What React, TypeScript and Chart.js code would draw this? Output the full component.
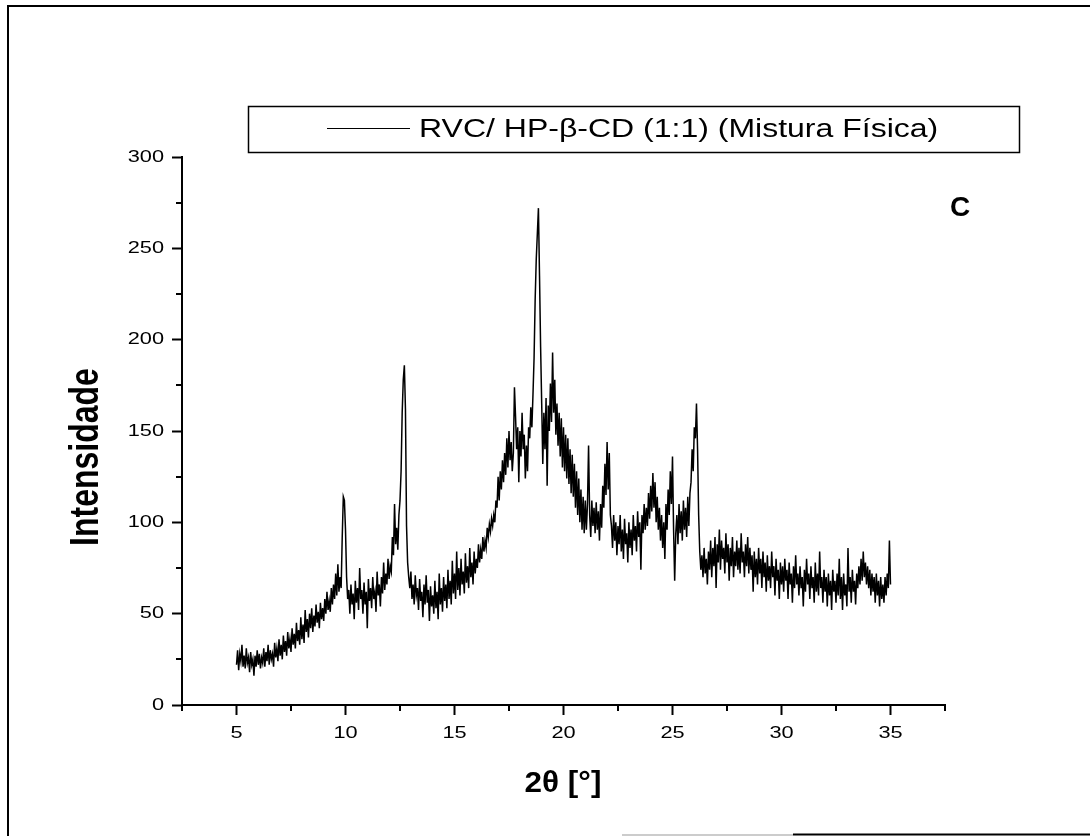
import React, { useEffect, useRef } from "react";
import { Chart, registerables } from "chart.js";

Chart.register(...registerables);

// Diffractogram sampled every 0.05° (2θ), split into 5° blocks.
const STEP = 0.05;

const int05to10 = [
  22, 30, 19, 28, 24, 33, 21, 27, 20, 31,
  23, 26, 18, 29, 22, 25, 16, 27, 21, 30,
  22, 28, 20, 26, 23, 31, 21, 29, 24, 33,
  22, 30, 25, 28, 21, 34, 26, 31, 24, 36,
  27, 33, 25, 38, 29, 35, 27, 40, 31, 36,
  29, 42, 33, 39, 31, 45, 35, 41, 33, 48,
  36, 44, 34, 52, 40, 47, 37, 50, 42, 53,
  40, 49, 43, 55, 45, 51, 42, 56, 47, 53,
  46, 58, 50, 62, 52, 57, 51, 64, 55, 66,
  58, 72, 60, 77, 62, 70, 64, 92, 114, 112,
];

const int10to15 = [
  96, 70, 58, 63, 50, 66, 55, 61, 47, 68,
  56, 64, 52, 75, 58, 63, 50, 67, 55, 62,
  42, 69, 57, 64, 53, 70, 58, 62, 51, 73,
  60, 66, 54, 70, 61, 78, 63, 72, 66, 80,
  69, 76, 73, 92, 82, 110, 88, 97, 85, 104,
  112, 128, 160, 178, 186, 162, 98, 78, 70, 64,
  73, 58, 66, 55, 71, 60, 64, 52, 69, 57,
  62, 48, 66, 55, 71, 56, 63, 46, 65, 54,
  60, 50, 68, 53, 62, 47, 72, 55, 64, 51,
  70, 57, 66, 53, 74, 58, 68, 55, 79, 61,
];

const int15to20 = [
  72, 58, 84, 63, 75, 60, 80, 66, 73, 61,
  83, 67, 76, 64, 86, 70, 78, 66, 84, 72,
  80, 75, 88, 78, 85, 80, 92, 84, 90, 86,
  97, 92, 99, 95, 102, 98, 104, 100, 112, 108,
  125, 112, 128, 118, 134, 122, 138, 126, 146, 130,
  150, 134, 144, 128, 138, 174, 158, 140, 152, 122,
  150, 136, 160, 140, 148, 124, 142, 128, 152, 146,
  163, 152, 170, 190, 222, 244, 258, 272, 235, 196,
  165, 132, 160, 140, 168, 120, 164, 150, 176, 155,
  193, 160, 178, 148, 165, 142, 160, 136, 157, 130,
];

const int20to25 = [
  152, 128, 148, 124, 146, 121, 140, 116, 137, 114,
  132, 108, 128, 104, 124, 100, 118, 96, 114, 94,
  112, 96, 110, 142, 104, 92, 112, 98, 108, 94,
  111, 96, 106, 90, 110, 97, 120, 108, 132, 115,
  144, 118, 138, 104, 98, 86, 104, 90, 100, 82,
  98, 88, 104, 84, 96, 80, 102, 88, 94, 78,
  100, 86, 96, 82, 104, 90, 98, 84, 106, 92,
  100, 74, 104, 94, 110, 96, 108, 98, 116, 102,
  120, 106, 127, 108, 122, 100, 114, 96, 108, 90,
  104, 86, 100, 80, 110, 96, 118, 104, 128, 110,
];

const int25to30 = [
  136, 96, 68, 94, 104, 88, 110, 94, 106, 90,
  112, 96, 108, 92, 114, 98, 116, 122, 140, 128,
  152, 146, 165, 140, 104, 84, 74, 82, 70, 86,
  72, 80, 66, 84, 74, 90, 70, 86, 76, 92,
  64, 88, 78, 96, 74, 90, 80, 86, 72, 94,
  78, 88, 68, 86, 76, 92, 70, 84, 76, 90,
  74, 86, 72, 94, 78, 84, 70, 88, 76, 92,
  72, 86, 74, 82, 62, 84, 70, 80, 66, 86,
  72, 80, 64, 84, 70, 78, 62, 82, 68, 76,
  64, 84, 70, 76, 60, 80, 68, 74, 58, 78,
];

const int30to35 = [
  66, 76, 62, 80, 68, 74, 58, 78, 66, 72,
  56, 76, 64, 82, 66, 72, 60, 76, 64, 70,
  54, 74, 62, 80, 66, 72, 58, 76, 64, 70,
  56, 78, 62, 72, 60, 84, 64, 70, 56, 74,
  62, 70, 54, 72, 60, 68, 52, 74, 62, 68,
  56, 72, 60, 80, 58, 70, 52, 72, 60, 66,
  54, 86, 62, 70, 56, 74, 62, 68, 55, 72,
  64, 76, 66, 80, 68, 84, 70, 78, 66, 76,
  64, 74, 60, 72, 62, 70, 56, 72, 60, 68,
  54, 70, 58, 66, 56, 70, 60, 72, 64, 90,
  66,
];

const blocks: { start: number; values: number[] }[] = [
  { start: 5, values: int05to10 },
  { start: 10, values: int10to15 },
  { start: 15, values: int15to20 },
  { start: 20, values: int20to25 },
  { start: 25, values: int25to30 },
  { start: 30, values: int30to35 },
];

const xTickLabels = ["5", "10", "15", "20", "25", "30", "35"];
const yTickLabels = ["0", "50", "100", "150", "200", "250", "300"];

const SERIES_LABEL = "RVC/ HP-\u03b2-CD (1:1) (Mistura F\u00edsica)";
const X_TITLE = "2\u03b8 [\u00b0]";
const Y_TITLE = "Intensidade";
const PANEL_TAG = "C";

const FONT = "'Liberation Sans', Arial, sans-serif";
const HSTRETCH = 1.28;

function buildPoints() {
  const pts: { x: number; y: number }[] = [];
  blocks.forEach((b) => {
    b.values.forEach((v, i) => {
      pts.push({ x: Math.round((b.start + i * STEP) * 100) / 100, y: v });
    });
  });
  return pts;
}

function stretchedText(
  ctx: CanvasRenderingContext2D,
  text: string,
  x: number,
  y: number,
  align: CanvasTextAlign,
  font: string,
  sx: number
) {
  ctx.save();
  ctx.translate(x, y);
  ctx.scale(sx, 1);
  ctx.font = font;
  ctx.fillStyle = "#000";
  ctx.textAlign = align;
  ctx.textBaseline = "middle";
  ctx.fillText(text, 0, 0);
  ctx.restore();
}

const decorations = {
  id: "decorations",
  afterDraw(chart: any) {
    const ctx: CanvasRenderingContext2D = chart.ctx;
    const xs = chart.scales.x;
    const ys = chart.scales.y;
    const area = chart.chartArea;

    ctx.save();
    ctx.strokeStyle = "#000";
    ctx.lineCap = "butt";

    // minor ticks
    ctx.lineWidth = 2;
    xs.ticks.forEach((t: any) => {
      if (t.label) return;
      const px = Math.round(xs.getPixelForValue(t.value));
      ctx.beginPath();
      ctx.moveTo(px, area.bottom);
      ctx.lineTo(px, area.bottom + 6);
      ctx.stroke();
    });
    ys.ticks.forEach((t: any) => {
      if (t.label) return;
      const py = Math.round(ys.getPixelForValue(t.value));
      ctx.beginPath();
      ctx.moveTo(area.left - 6, py);
      ctx.lineTo(area.left, py);
      ctx.stroke();
    });

    // tick labels
    const tickFont = `17px ${FONT}`;
    xs.ticks.forEach((t: any) => {
      if (!t.label) return;
      stretchedText(ctx, String(t.label), xs.getPixelForValue(t.value), area.bottom + 28, "center", tickFont, HSTRETCH);
    });
    ys.ticks.forEach((t: any) => {
      if (!t.label) return;
      stretchedText(ctx, String(t.label), area.left - 18, ys.getPixelForValue(t.value), "right", tickFont, HSTRETCH);
    });

    // axis titles
    stretchedText(ctx, X_TITLE, 563, 784, "center", `bold 30px ${FONT}`, 1.05);
    ctx.save();
    ctx.translate(87, 457);
    ctx.rotate(-Math.PI / 2);
    ctx.scale(1, HSTRETCH);
    ctx.font = `bold 32px ${FONT}`;
    ctx.fillStyle = "#000";
    ctx.textAlign = "center";
    ctx.textBaseline = "middle";
    ctx.fillText(Y_TITLE, 0, 0);
    ctx.restore();

    // panel tag
    stretchedText(ctx, PANEL_TAG, 960, 208, "center", `bold 28px ${FONT}`, 1);

    // legend box
    ctx.lineWidth = 1.5;
    ctx.strokeRect(248.5, 106.5, 771, 46);
    ctx.lineWidth = 1;
    ctx.beginPath();
    ctx.moveTo(327, 128.5);
    ctx.lineTo(410, 128.5);
    ctx.stroke();
    stretchedText(ctx, SERIES_LABEL, 419, 130, "left", `25px ${FONT}`, HSTRETCH);

    // page frame
    ctx.lineWidth = 2;
    ctx.beginPath();
    ctx.moveTo(8, 836);
    ctx.lineTo(8, 6);
    ctx.lineTo(1090, 6);
    ctx.stroke();
    ctx.beginPath();
    ctx.moveTo(793, 834.5);
    ctx.lineTo(1090, 834.5);
    ctx.stroke();
    ctx.lineWidth = 1;
    ctx.strokeStyle = "#999";
    ctx.beginPath();
    ctx.moveTo(622, 835);
    ctx.lineTo(793, 835);
    ctx.stroke();
    ctx.restore();
  },
};

export default function App() {
  const canvasRef = useRef<HTMLCanvasElement | null>(null);

  useEffect(() => {
    const canvas = canvasRef.current;
    if (!canvas) return;
    const chart = new Chart(canvas, {
      type: "line",
      data: {
        datasets: [
          {
            label: SERIES_LABEL,
            data: buildPoints(),
            borderColor: "#000",
            borderWidth: 1.5,
            pointRadius: 0,
            tension: 0,
            fill: false,
          },
        ],
      },
      options: {
        animation: false,
        responsive: false,
        devicePixelRatio: 1,
        layout: { padding: { top: 157, right: 145, bottom: 0, left: 0 } },
        plugins: {
          legend: { display: false },
          tooltip: { enabled: false },
          title: { display: false },
        },
        scales: {
          x: {
            type: "linear",
            min: 2.5,
            max: 37.5,
            afterFit: (s: any) => {
              s.height = 131;
            },
            ticks: {
              stepSize: 2.5,
              display: false,
              autoSkip: false,
              callback: (v: any) => (xTickLabels.includes(String(v)) ? String(v) : ""),
            },
            grid: {
              drawOnChartArea: false,
              drawTicks: true,
              tickLength: 10,
              tickWidth: 2,
              tickColor: (c: any) => (c.tick && xTickLabels.includes(String(c.tick.value)) ? "#000" : "rgba(0,0,0,0)"),
            },
            border: { display: true, color: "#000", width: 2 },
          },
          y: {
            type: "linear",
            min: 0,
            max: 300,
            afterFit: (s: any) => {
              s.width = 182;
            },
            ticks: {
              stepSize: 25,
              display: false,
              autoSkip: false,
              callback: (v: any) => (yTickLabels.includes(String(v)) ? String(v) : ""),
            },
            grid: {
              drawOnChartArea: false,
              drawTicks: true,
              tickLength: 10,
              tickWidth: 2,
              tickColor: (c: any) => (c.tick && yTickLabels.includes(String(c.tick.value)) ? "#000" : "rgba(0,0,0,0)"),
            },
            border: { display: true, color: "#000", width: 2 },
          },
        },
      },
      plugins: [decorations],
    });
    return () => chart.destroy();
  }, []);

  return (
    <div style={{ position: "absolute", left: 0, top: 0, width: 1090, height: 836, background: "#fff" }}>
      <canvas ref={canvasRef} width={1090} height={836} style={{ display: "block" }} />
    </div>
  );
}
